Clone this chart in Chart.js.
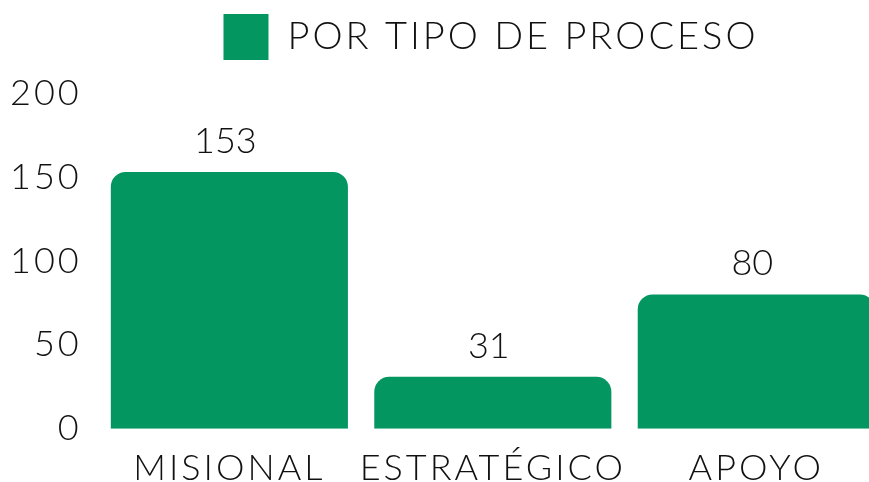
<!DOCTYPE html>
<html>
<head>
<meta charset="utf-8">
<script src="https://cdn.jsdelivr.net/npm/chart.js@4.4.0/dist/chart.umd.min.js"></script>
<style>
    html, body { margin: 0; padding: 0; background: #fff; overflow: hidden; }
    #wrap { position: absolute; left: 0; top: 0; width: 972px; height: 500px; }
</style>
</head>
<body>
<div id="wrap"><canvas id="chart"></canvas></div>
<script>
    // Chart data
    const categories = ['MISIONAL', 'ESTRATÉGICO', 'APOYO'];
    const processCounts = [153, 31, 80];
    const seriesLabel = 'POR TIPO DE PROCESO';
    const yTicks = [0, 50, 100, 150, 200];

    const green = '#039660';
    const fontFamily = 'Lato, "Open Sans", sans-serif';
    const spacing = '3px';

    // Wider letters (canvas state gets reset on resize, so set it again each pass)
    const letterSpacing = {
        id: 'letterSpacing',
        beforeLayout(chart) { chart.ctx.letterSpacing = spacing; },
        beforeDraw(chart) { chart.ctx.letterSpacing = spacing; }
    };

    // Extra room under the legend, and nudge it right
    const legendMargin = {
        id: 'legendMargin',
        beforeInit(chart) {
            const legend = chart.legend;
            const fit = legend.fit;
            legend.fit = function() {
                fit.call(this);
                this.height += 23;
            };
            const draw = legend.draw;
            legend.draw = function() {
                const ctx = this.ctx;
                ctx.save();
                ctx.translate(46, 0);
                draw.call(this);
                ctx.restore();
            };
        }
    };

    // Value labels above each bar
    const valueLabels = {
        id: 'valueLabels',
        afterDatasetsDraw(chart) {
            const ctx = chart.ctx;
            ctx.save();
            ctx.letterSpacing = '0px';
            ctx.font = '300 36px ' + fontFamily;
            ctx.fillStyle = '#111';
            ctx.textAlign = 'center';
            ctx.textBaseline = 'alphabetic';
            chart.getDatasetMeta(0).data.forEach((bar, i) => {
                ctx.fillText(String(chart.data.datasets[0].data[i]), bar.x - 4, bar.y - 19);
            });
            ctx.restore();
        }
    };

    new Chart(document.getElementById('chart'), {
        type: 'bar',
        data: {
            labels: categories,
            datasets: [{
                label: seriesLabel,
                data: processCounts,
                backgroundColor: green,
                borderRadius: 15,
                barPercentage: 0.9,
                categoryPercentage: 1.0
            }]
        },
        options: {
            responsive: true,
            maintainAspectRatio: false,
            animation: false,
            layout: { padding: { left: 2, right: 84, top: 0, bottom: 0 } },
            plugins: {
                legend: {
                    display: true,
                    position: 'top',
                    labels: {
                        boxWidth: 45,
                        boxHeight: 46,
                        color: '#111',
                        padding: 14,
                        font: { family: fontFamily, size: 38, weight: '300' }
                    }
                },
                tooltip: { enabled: false }
            },
            scales: {
                x: {
                    grid: { display: false },
                    border: { display: false },
                    ticks: {
                        color: '#111',
                        padding: 10,
                        autoSkip: false,
                        maxRotation: 0,
                        minRotation: 0,
                        font: { family: fontFamily, size: 36, weight: '300' }
                    }
                },
                y: {
                    min: 0,
                    max: 200,
                    grid: { display: false },
                    border: { display: false },
                    afterBuildTicks: axis => { axis.ticks = yTicks.map(v => ({ value: v })); },
                    ticks: {
                        color: '#111',
                        padding: 8,
                        font: { family: fontFamily, size: 36, weight: '300' }
                    }
                }
            }
        },
        plugins: [letterSpacing, legendMargin, valueLabels]
    });
</script>
</body>
</html>
